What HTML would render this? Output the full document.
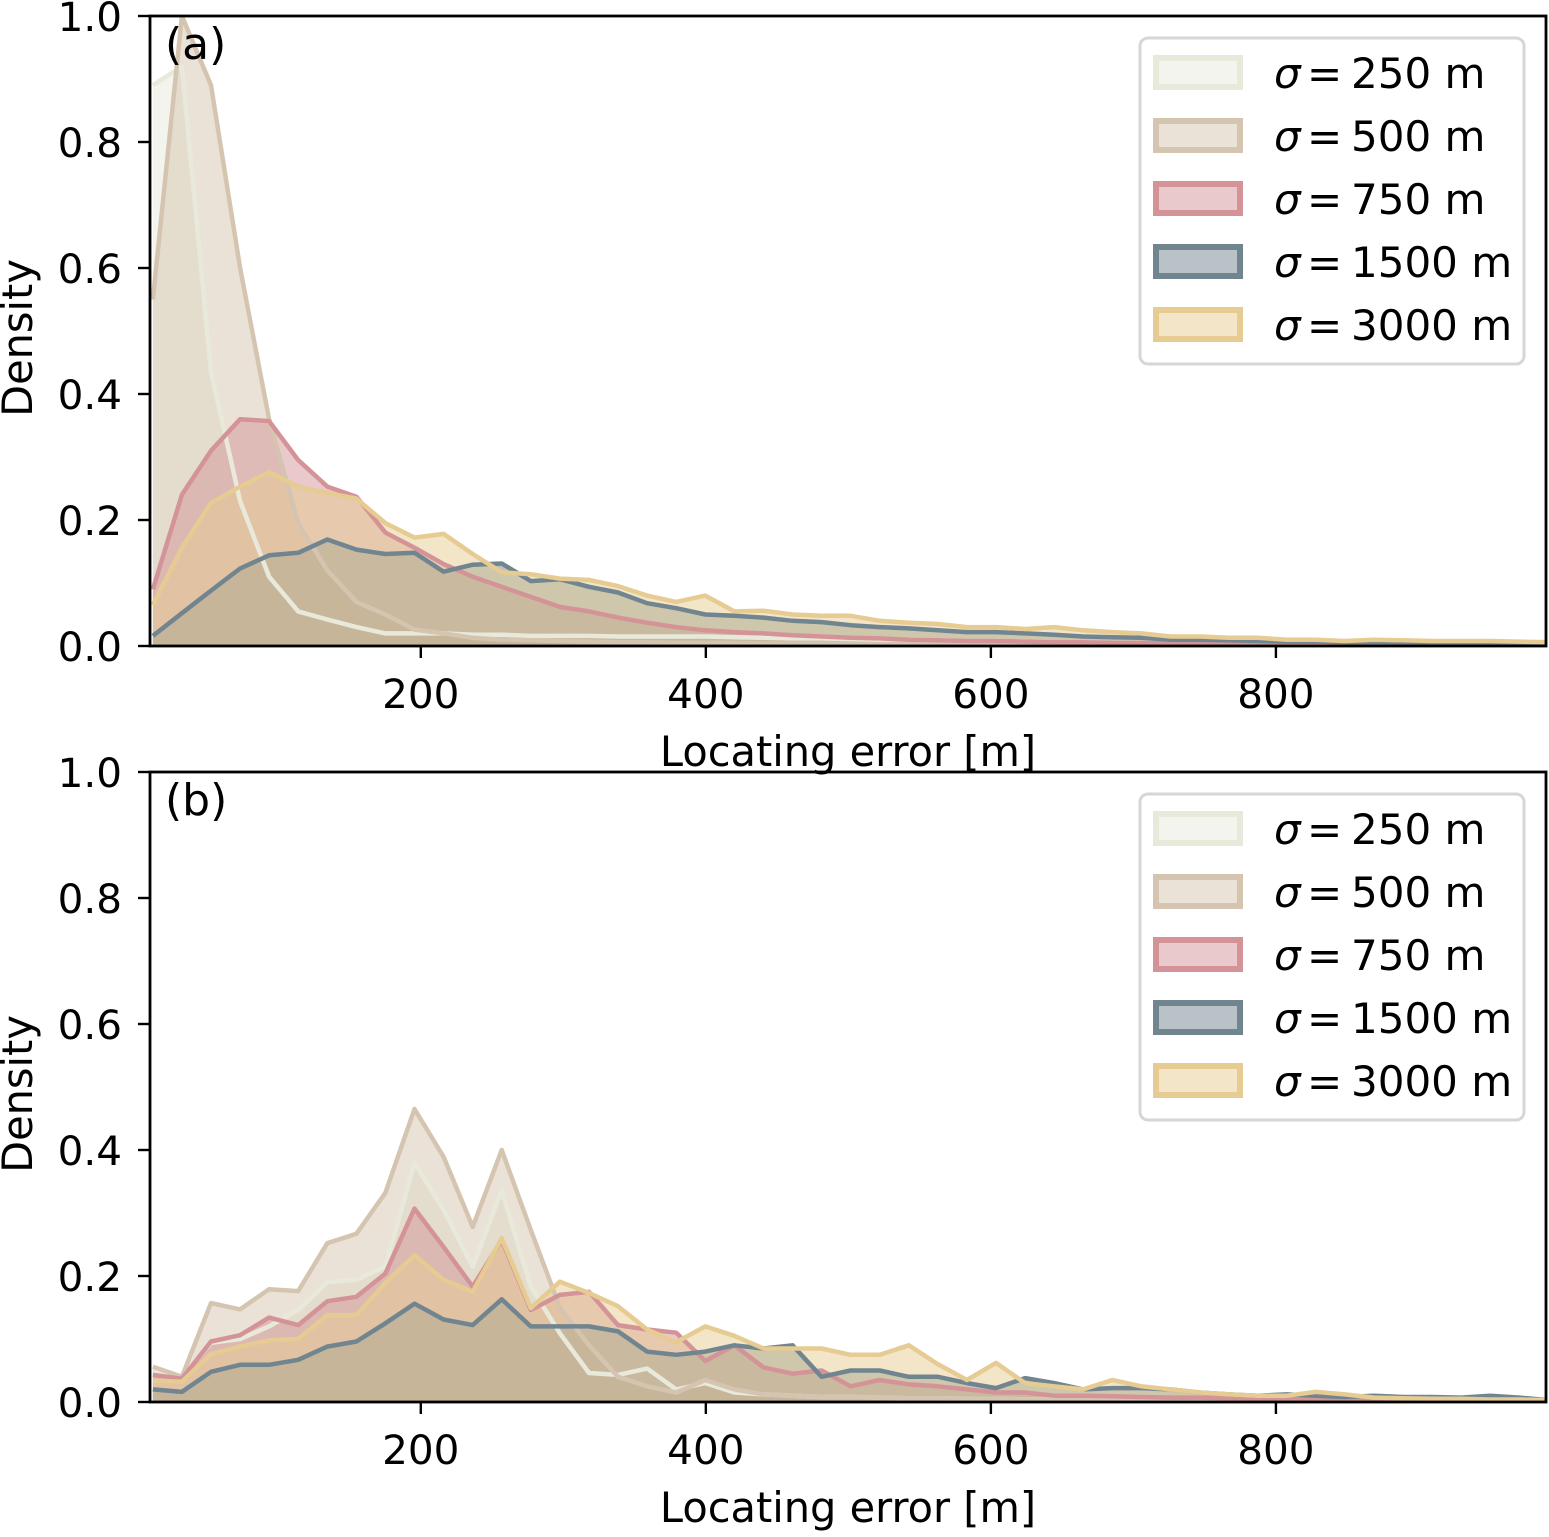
<!DOCTYPE html>
<html><head><meta charset="utf-8"><style>
body{margin:0;background:#fff}
svg text{font-family:"DejaVu Sans","Liberation Sans",sans-serif;fill:#000}
</style></head><body>
<svg id="chart" width="1549" height="1532" viewBox="0 0 1549 1532" xmlns="http://www.w3.org/2000/svg"></svg>
<script>
const labels = ["σ = 250 m","σ = 500 m","σ = 750 m","σ = 1500 m","σ = 3000 m"];
const sigmaText = ["250","500","750","1500","3000"];
const xTicks = [200,400,600,800];
const yTicks = [0,0.2,0.4,0.6,0.8,1.0];
const binStart = 12, binStep = 20.4;
// panel (a)
const a250 = [0.89,0.92,0.435,0.23,0.11,0.055,0.042,0.03,0.02,0.02,0.02,0.018,0.018,0.016,0.016,0.016,0.015,0.015,0.015,0.015,0.014,0.013,0.012,0.012,0.011,0.01,0.01,0.009,0.008,0.008,0.007,0.006,0.006,0.005,0.005,0.005,0.004,0.004,0.004,0.003,0.003,0.003,0.003,0.003,0.002,0.002,0.002,0.002,0.002];
const a500 = [0.55,1.0,0.89,0.60,0.36,0.195,0.12,0.07,0.05,0.026,0.02,0.013,0.01,0.009,0.008,0.007,0.006,0.006,0.005,0.005,0.005,0.004,0.004,0.004,0.003,0.003,0.003,0.003,0.002,0.002,0.002,0.002,0.002,0.002,0.002,0.001,0.001,0.001,0.001,0.001,0.001,0.001,0.001,0.001,0.001,0.001,0.001,0.001,0.001];
const a750 = [0.09,0.24,0.31,0.36,0.357,0.295,0.253,0.237,0.18,0.156,0.13,0.11,0.094,0.078,0.062,0.055,0.045,0.037,0.03,0.025,0.022,0.02,0.017,0.015,0.013,0.012,0.01,0.009,0.008,0.008,0.007,0.006,0.006,0.005,0.005,0.004,0.004,0.004,0.003,0.003,0.003,0.003,0.002,0.002,0.002,0.002,0.002,0.002,0.002];
const a1500 = [0.016,0.052,0.088,0.123,0.144,0.148,0.169,0.153,0.146,0.148,0.118,0.129,0.131,0.103,0.106,0.094,0.085,0.068,0.06,0.05,0.048,0.045,0.04,0.038,0.033,0.03,0.028,0.025,0.022,0.022,0.02,0.018,0.015,0.014,0.013,0.01,0.01,0.009,0.008,0.007,0.007,0.006,0.006,0.005,0.005,0.005,0.004,0.004,0.004];
const a3000 = [0.065,0.156,0.227,0.253,0.276,0.253,0.243,0.234,0.195,0.172,0.178,0.146,0.117,0.114,0.107,0.105,0.095,0.08,0.07,0.08,0.055,0.056,0.05,0.048,0.048,0.04,0.037,0.035,0.03,0.03,0.027,0.03,0.025,0.022,0.02,0.015,0.015,0.013,0.013,0.01,0.01,0.008,0.01,0.009,0.008,0.008,0.008,0.007,0.006];
// panel (b)
const b250 = [0.046,0.04,0.094,0.1,0.12,0.146,0.19,0.194,0.215,0.379,0.305,0.215,0.336,0.183,0.109,0.046,0.043,0.053,0.02,0.03,0.015,0.012,0.01,0.008,0.008,0.007,0.006,0.006,0.005,0.005,0.004,0.004,0.004,0.003,0.003,0.003,0.003,0.002,0.002,0.002,0.002,0.002,0.002,0.002,0.002,0.001,0.001,0.001,0.001];
const b500 = [0.056,0.04,0.157,0.147,0.179,0.176,0.252,0.267,0.332,0.465,0.389,0.278,0.40,0.273,0.15,0.09,0.04,0.025,0.015,0.035,0.02,0.012,0.01,0.008,0.008,0.007,0.006,0.006,0.005,0.005,0.004,0.004,0.004,0.003,0.003,0.003,0.003,0.002,0.002,0.002,0.002,0.002,0.002,0.002,0.002,0.001,0.001,0.001,0.001];
const b750 = [0.043,0.037,0.096,0.106,0.134,0.122,0.16,0.167,0.204,0.307,0.246,0.183,0.257,0.146,0.17,0.175,0.122,0.115,0.11,0.065,0.09,0.055,0.045,0.05,0.025,0.035,0.028,0.025,0.02,0.015,0.015,0.01,0.01,0.009,0.008,0.007,0.007,0.006,0.005,0.005,0.004,0.004,0.004,0.003,0.003,0.003,0.003,0.002,0.002];
const b1500 = [0.02,0.016,0.048,0.059,0.059,0.067,0.088,0.096,0.125,0.156,0.131,0.122,0.163,0.12,0.12,0.12,0.112,0.08,0.075,0.08,0.09,0.085,0.09,0.04,0.05,0.05,0.04,0.04,0.03,0.022,0.038,0.03,0.02,0.022,0.022,0.02,0.015,0.012,0.01,0.012,0.01,0.008,0.01,0.008,0.008,0.007,0.01,0.007,0.003];
const b3000 = [0.034,0.032,0.076,0.088,0.098,0.1,0.138,0.138,0.189,0.233,0.194,0.175,0.26,0.149,0.191,0.173,0.152,0.115,0.095,0.12,0.105,0.085,0.085,0.085,0.075,0.075,0.09,0.06,0.035,0.062,0.03,0.025,0.02,0.035,0.025,0.02,0.015,0.012,0.01,0.01,0.016,0.012,0.007,0.006,0.005,0.005,0.004,0.004,0.003];

const lineColors = ["#e8e9db","#d5c5b0","#d49497","#718590","#e6cb92"];
const NS = "http://www.w3.org/2000/svg";
const svg = document.getElementById("chart");
const X0 = 150, X1 = 1546, xMin = 10, xMax = 989.5;
function xPix(v){ return X0 + (v - xMin) / (xMax - xMin) * (X1 - X0); }
function mk(tag, attrs, parent){ const e = document.createElementNS(NS, tag); for (const k in attrs) e.setAttribute(k, attrs[k]); (parent||svg).appendChild(e); return e; }

function panel(top, series, tag, pname){
  const bottom = top + 630;
  const yPix = v => bottom - v * 630;
  const g = mk("g", {});
  
  
  const cp = mk("clipPath", {id: "clip" + pname}, g);
  mk("rect", {x: X0, y: top, width: X1 - X0, height: 630}, cp);
  const plot = mk("g", {"clip-path": "url(#clip" + pname + ")"}, g);
  const fills = mk("g", {}, plot);
  const lines = mk("g", {}, plot);
  series.forEach((vals, i) => {
    const pts = vals.map((v, k) => xPix(binStart + binStep * k).toFixed(1) + "," + yPix(v).toFixed(1));
    const first = xPix(binStart).toFixed(1), last = xPix(binStart + binStep * (vals.length - 1)).toFixed(1);
    const area = mk("polygon", {points: first + "," + bottom + " " + pts.join(" ") + " " + last + "," + bottom, fill: lineColors[i], "fill-opacity": 0.5, stroke: "none"}, fills);
    
    
    const ln = mk("polyline", {points: pts.join(" "), fill: "none", stroke: lineColors[i], "stroke-width": 4.5, "stroke-linejoin": "round"}, lines);
    
    
  });
  const frame = mk("rect", {x: X0, y: top, width: X1 - X0, height: 630, fill: "none", stroke: "#000", "stroke-width": 2.8}, g);
  
  
  xTicks.forEach(t => {
    const x = xPix(t);
    mk("line", {x1: x, x2: x, y1: bottom, y2: bottom + 12, stroke: "#000", "stroke-width": 2.4}, g);
    const tx = mk("text", {x: x, y: bottom + 62, "text-anchor": "middle", "font-size": 40.5}, g);
    tx.textContent = t;
    
    
  });
  yTicks.forEach(t => {
    const y = yPix(t);
    mk("line", {x1: X0 - 12, x2: X0, y1: y, y2: y, stroke: "#000", "stroke-width": 2.4}, g);
    const tx = mk("text", {x: X0 - 28, y: y + 15, "text-anchor": "end", "font-size": 40.5}, g);
    tx.textContent = t.toFixed(1);
    
    
  });
  const xl = mk("text", {x: 848, y: bottom + 120, "text-anchor": "middle", "font-size": 41.5}, g);
  xl.textContent = "Locating error [m]";
  
  
  const yl = mk("text", {x: 0, y: 0, "text-anchor": "middle", "font-size": 41.5, transform: "translate(32," + (top + 322) + ") rotate(-90)"}, g);
  yl.textContent = "Density";
  
  
  const pl = mk("text", {x: 165, y: top + 43, "font-size": 44}, g);
  pl.textContent = tag;
  
  
  // legend
  const lg = mk("g", {}, g);
  
  
  mk("rect", {x: 1140, y: top + 22, width: 384, height: 326, rx: 8, fill: "#fff", "fill-opacity": 0.8, stroke: "#d6d6d6", "stroke-width": 3}, lg);
  labels.forEach((lab, i) => {
    const cy = top + 57 + i * 63;
    const ent = mk("g", {}, lg);
    
    
    mk("rect", {x: 1156, y: cy - 15, width: 84, height: 29, fill: lineColors[i], "fill-opacity": 0.5, stroke: lineColors[i], "stroke-width": 6}, ent);
    const t = mk("text", {x: 1274, y: cy + 15, "font-size": 42}, ent);
    const s = mk("tspan", {"font-style": "italic"}, t); s.textContent = "σ";
    const e = mk("tspan", {x: 1307}, t); e.textContent = "=";
    const r = mk("tspan", {x: 1351}, t); r.textContent = sigmaText[i] + " m";
  });
}
panel(16, [a250, a500, a750, a1500, a3000], "(a)", "a");
panel(772, [b250, b500, b750, b1500, b3000], "(b)", "b");
</script>
</body></html>
